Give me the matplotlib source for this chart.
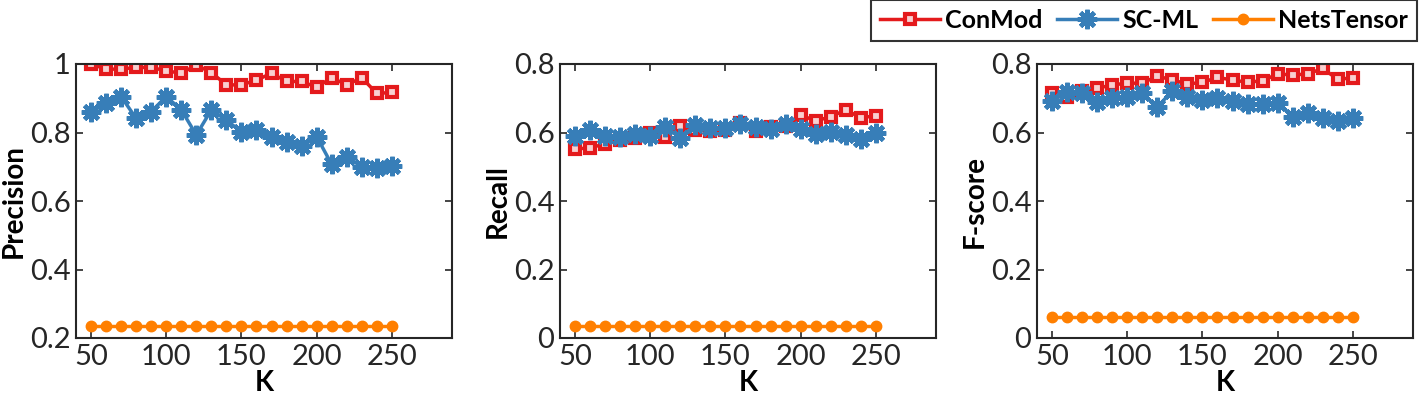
import matplotlib
matplotlib.use("Agg")
import matplotlib.pyplot as plt

K = [50, 60, 70, 80, 90, 100, 110, 120, 130, 140, 150, 160, 170, 180, 190, 200, 210, 220, 230, 240, 250]

prec_conmod = [1.0, 0.985, 0.985, 0.99, 0.99, 0.98, 0.973, 0.997, 0.975, 0.939, 0.939, 0.953, 0.973, 0.949, 0.949, 0.932, 0.96, 0.939, 0.96, 0.914, 0.917]
prec_scml = [0.861, 0.885, 0.905, 0.841, 0.861, 0.905, 0.866, 0.793, 0.866, 0.836, 0.802, 0.807, 0.788, 0.773, 0.762, 0.788, 0.707, 0.729, 0.70, 0.695, 0.702]
prec_nets = [0.235] * 21

rec_conmod = [0.551, 0.556, 0.566, 0.578, 0.583, 0.598, 0.588, 0.619, 0.607, 0.604, 0.607, 0.629, 0.604, 0.615, 0.619, 0.651, 0.634, 0.646, 0.666, 0.643, 0.649]
rec_scml = [0.590, 0.607, 0.590, 0.586, 0.595, 0.590, 0.617, 0.585, 0.622, 0.614, 0.614, 0.624, 0.617, 0.610, 0.624, 0.610, 0.595, 0.602, 0.592, 0.580, 0.598]
rec_nets = [0.035] * 21

f_conmod = [0.716, 0.705, 0.722, 0.729, 0.739, 0.744, 0.744, 0.765, 0.753, 0.742, 0.746, 0.761, 0.753, 0.747, 0.751, 0.771, 0.768, 0.771, 0.787, 0.755, 0.760]
f_scml = [0.693, 0.719, 0.714, 0.690, 0.700, 0.705, 0.714, 0.674, 0.722, 0.705, 0.695, 0.700, 0.693, 0.683, 0.683, 0.687, 0.646, 0.658, 0.641, 0.634, 0.643]
f_nets = [0.06] * 21

series_names = ["ConMod", "SC-ML", "NetsTensor"]
ylabels = ["Precision", "Recall", "F-score"]
yticks_list = [[0.2, 0.4, 0.6, 0.8, 1.0], [0, 0.2, 0.4, 0.6, 0.8], [0, 0.2, 0.4, 0.6, 0.8]]
yticklabels_list = [["0.2", "0.4", "0.6", "0.8", "1"], ["0", "0.2", "0.4", "0.6", "0.8"], ["0", "0.2", "0.4", "0.6", "0.8"]]
ylims = [(0.2, 1.0), (0, 0.8), (0, 0.8)]
xticks = [50, 100, 150, 200, 250]

plt.rcParams['font.family'] = ['Lato', 'DejaVu Sans']

RED = "#E41A1C"
BLUE = "#377EB8"
ORANGE = "#FF7F00"

fig = plt.figure(figsize=(14.19, 4.03), dpi=100)
lefts = [76, 560, 1037]
W, H = 1419, 403
data = [(prec_conmod, prec_scml, prec_nets), (rec_conmod, rec_scml, rec_nets), (f_conmod, f_scml, f_nets)]

handles = None
for i in range(3):
    ax = fig.add_axes([lefts[i] / W, 65 / H, 376 / W, 274 / H])
    c, s, n = data[i]
    h1, = ax.plot(K, c, color=RED, lw=2.5, marker='s', ms=7.5, mfc='#f8d0d0', mec=RED, mew=3.0, label=series_names[0])
    h2, = ax.plot(K, s, color=BLUE, lw=2.5, marker=(8, 2, 0), ms=14, mec=BLUE, mew=3.2, label=series_names[1])
    h3, = ax.plot(K, n, color=ORANGE, lw=2.5, marker='o', ms=7.5, mfc=ORANGE, mec=ORANGE, label=series_names[2])
    handles = [h1, h2, h3]
    ax.set_xlim(40, 290)
    ax.set_ylim(*ylims[i])
    ax.set_xticks(xticks)
    ax.set_xticklabels([str(x) for x in xticks])
    ax.set_yticks(yticks_list[i])
    ax.set_yticklabels(yticklabels_list[i])
    ax.tick_params(direction='in', top=True, right=True, labelsize=21, colors='#262626', length=5, width=1.2, pad=4)
    for sp in ax.spines.values():
        sp.set_linewidth(1.5)
        sp.set_color('#262626')
    ax.set_xlabel("K", fontsize=20, fontweight='bold', labelpad=0)
    ax.set_ylabel(ylabels[i], fontsize=20, fontweight='bold', labelpad=2)

leg = fig.legend(handles=handles, labels=series_names, ncol=3, loc='upper right',
                 bbox_to_anchor=(1417 / W, 1.0), frameon=True, fancybox=False,
                 prop={'weight': 'bold', 'size': 18}, handlelength=2.4, handletextpad=0.2,
                 columnspacing=0.6, borderpad=0.35, borderaxespad=0)
leg.get_frame().set_edgecolor('black')
leg.get_frame().set_linewidth(1.5)

fig.savefig("out.png", dpi=100)
